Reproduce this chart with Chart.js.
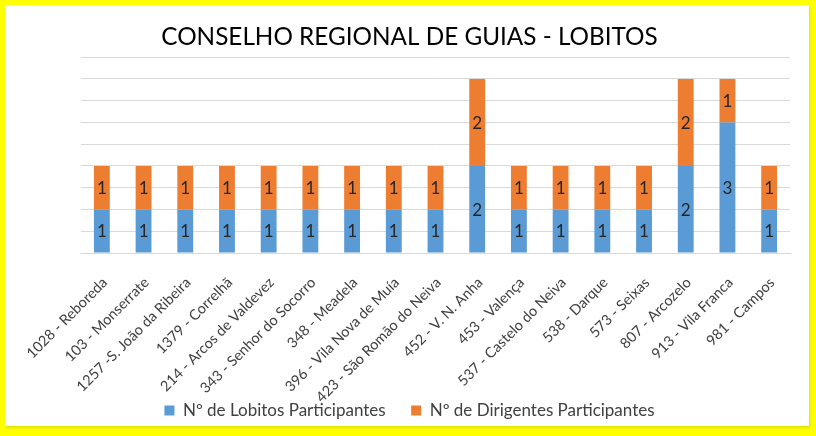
<!DOCTYPE html>
<html>
<head>
<meta charset="utf-8">
<script src="https://cdn.jsdelivr.net/npm/chart.js@4.4.0/dist/chart.umd.min.js"></script>
<style>
  body { margin: 0; background: #ffff00; }
  #frame { position: absolute; left: 0; top: 0; width: 816px; height: 436px; background: #ffff00; }
  #box { position: absolute; left: 5px; top: 5px; width: 804px; height: 421px; background: #fff; box-shadow: 1px 2px 3px rgba(0,0,0,0.12); }
  #grafico { position: absolute; left: 5px; top: 5px; }
</style>
</head>
<body>
<div id="frame"><div id="box"></div><canvas id="grafico" width="804" height="431"></canvas></div>
<script>
// categorias e valores
const agrupamentos = [
    '1028 - Reboreda', '103 - Monserrate', '1257 -S. João da Ribeira', '1379 - Correlhã',
    '214 - Arcos de Valdevez', '343 - Senhor do Socorro', '348 - Meadela',
    '396 - Vila Nova de Muía', '423 - São Romão do Neiva', '452 - V. N. Anha',
    '453 - Valença', '537 - Castelo do Neiva', '538 - Darque', '573 - Seixas',
    '807 - Arcozelo', '913 - Vila Franca', '981 - Campos'
];
const lobitos    = [1, 1, 1, 1, 1, 1, 1, 1, 1, 2, 1, 1, 1, 1, 2, 3, 1];
const dirigentes = [1, 1, 1, 1, 1, 1, 1, 1, 1, 2, 1, 1, 1, 1, 2, 1, 1];

const fonte = 'Lato, "Open Sans", sans-serif';

// escreve o valor no meio de cada segmento
const rotulos = {
    id: 'rotulos',
    afterDatasetsDraw(chart) {
        const ctx = chart.ctx;
        ctx.save();
        ctx.font = '17px ' + fonte;
        ctx.fillStyle = '#262626';
        ctx.textAlign = 'center';
        ctx.textBaseline = 'middle';
        chart.data.datasets.forEach((ds, i) => {
            chart.getDatasetMeta(i).data.forEach((bar, j) => {
                const mid = (bar.y + bar.base) / 2;
                ctx.fillText(ds.data[j], bar.x, mid + 1);
            });
        });
        ctx.restore();
    }
};

new Chart(document.getElementById('grafico'), {
    type: 'bar',
    data: {
        labels: agrupamentos,
        datasets: [{
            label: 'Nº de Lobitos Participantes',
            data: lobitos,
            backgroundColor: '#5B9BD5'
        }, {
            label: 'Nº de Dirigentes Participantes',
            data: dirigentes,
            backgroundColor: '#ED7D31'
        }]
    },
    options: {
        responsive: false,
        animation: false,
        layout: { padding: { left: 24, right: 19, top: 6, bottom: 7 } },
        datasets: { bar: { barPercentage: 0.38, categoryPercentage: 1 } },
        plugins: {
            title: {
                display: true,
                text: 'CONSELHO REGIONAL DE GUIAS - LOBITOS',
                color: '#000',
                font: { family: fonte, size: 24.3, weight: 'normal' },
                padding: { top: 12, bottom: 5 }
            },
            legend: {
                position: 'bottom',
                labels: {
                    color: '#404040',
                    font: { family: fonte, size: 17 },
                    boxWidth: 10,
                    boxHeight: 10,
                    padding: 0,
                    // espaco largo entre as duas entradas
                    generateLabels(chart) {
                        const items = Chart.defaults.plugins.legend.labels.generateLabels(chart);
                        items[0].text += '\u2003\u2003';
                        return items;
                    }
                }
            },
            tooltip: { enabled: false }
        },
        scales: {
            x: {
                stacked: true,
                grid: { display: false },
                border: { color: '#d9d9d9' },
                ticks: {
                    color: '#404040',
                    font: { family: fonte, size: 14.5 },
                    minRotation: 45,
                    maxRotation: 45,
                    autoSkip: false,
                    padding: 13,
                    labelOffset: 3
                },
                afterFit(scale) { scale.height = 149; }
            },
            y: {
                stacked: true,
                min: 0,
                max: 4.5,
                ticks: { display: false, stepSize: 0.5 },
                grid: { color: '#d9d9d9', drawTicks: false },
                border: { display: false },
                afterFit(scale) { scale.width = 52; }
            }
        }
    },
    plugins: [rotulos]
});
</script>
</body>
</html>
